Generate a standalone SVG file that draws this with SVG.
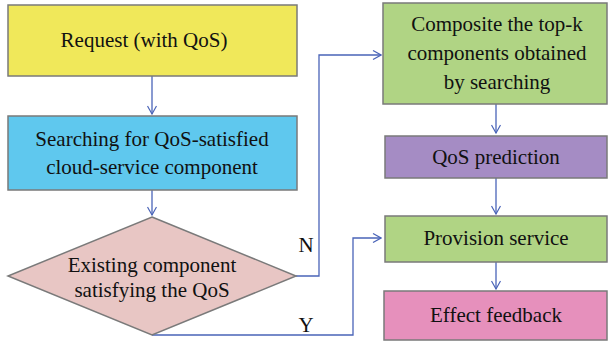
<svg xmlns="http://www.w3.org/2000/svg" width="608" height="345" viewBox="0 0 608 345">
<defs>
<style>
.box{stroke:#7a7a7a;stroke-width:1.5}
.c{fill:none;stroke:#4a64b8;stroke-width:1.3}
</style>
<marker id="ah" viewBox="0 0 10 10" refX="9" refY="5" markerWidth="10" markerHeight="10" markerUnits="userSpaceOnUse" orient="auto">
<path d="M1,0.5 L9,5 L1,9.5" fill="none" stroke="#4a64b8" stroke-width="1.2"/>
</marker>
</defs>
<rect width="608" height="345" fill="#fff"/>
<g id="connectors">
<path class="c" d="M152,76 V114" marker-end="url(#ah)"/>
<path class="c" d="M152,190 V215" marker-end="url(#ah)"/>
<path class="c" d="M296,276 H319 V55 H381" marker-end="url(#ah)"/>
<path class="c" d="M152,335 H353 V238 H381" marker-end="url(#ah)"/>
<path class="c" d="M496,104 V133" marker-end="url(#ah)"/>
<path class="c" d="M496,178 V214" marker-end="url(#ah)"/>
<path class="c" d="M496,262 V289" marker-end="url(#ah)"/>
<text x="306" y="252" font-family="Liberation Serif" font-size="21" fill="#111" text-anchor="middle">N</text>
<text x="306" y="332" font-family="Liberation Serif" font-size="21" fill="#111" text-anchor="middle">Y</text>
</g>
<g id="request">
<rect class="box" x="8" y="5" width="289" height="71" fill="#f0e85a"/>
<text x="144" y="47" font-family="Liberation Serif" font-size="21" fill="#111" text-anchor="middle">Request (with QoS)</text>
</g>
<g id="search">
<rect class="box" x="8" y="116" width="289" height="74" fill="#5fc8ee"/>
<text x="152" y="146" font-family="Liberation Serif" font-size="21" fill="#111" text-anchor="middle">Searching for QoS-satisfied</text>
<text x="152" y="174" font-family="Liberation Serif" font-size="21" fill="#111" text-anchor="middle">cloud-service component</text>
</g>
<g id="decision">
<polygon class="box" points="152,217 296,276 152,335 8,276" fill="#e8c6c4" stroke-width="1.2"/>
<text x="152" y="272" font-family="Liberation Serif" font-size="21" fill="#111" text-anchor="middle">Existing component</text>
<text x="152" y="297" font-family="Liberation Serif" font-size="21" fill="#111" text-anchor="middle">satisfying the QoS</text>
</g>
<g id="composite">
<rect class="box" x="383" y="3" width="224" height="101" fill="#b0d484"/>
<text x="497" y="31" font-family="Liberation Serif" font-size="21" fill="#111" text-anchor="middle">Composite the top-k</text>
<text x="497" y="60" font-family="Liberation Serif" font-size="21" fill="#111" text-anchor="middle">components obtained</text>
<text x="497" y="89" font-family="Liberation Serif" font-size="21" fill="#111" text-anchor="middle">by searching</text>
</g>
<g id="predict">
<rect class="box" x="385" y="136" width="222" height="42" fill="#a58cc4" stroke="#8a86c8"/>
<text x="496" y="164" font-family="Liberation Serif" font-size="21" fill="#111" text-anchor="middle">QoS prediction</text>
</g>
<g id="provision">
<rect class="box" x="385" y="216" width="222" height="46" fill="#b0d484"/>
<text x="496" y="245" font-family="Liberation Serif" font-size="21" fill="#111" text-anchor="middle">Provision service</text>
</g>
<g id="feedback">
<rect class="box" x="384" y="291" width="223" height="49" fill="#e690bc"/>
<text x="496" y="322" font-family="Liberation Serif" font-size="21" fill="#111" text-anchor="middle">Effect feedback</text>
</g>
</svg>
